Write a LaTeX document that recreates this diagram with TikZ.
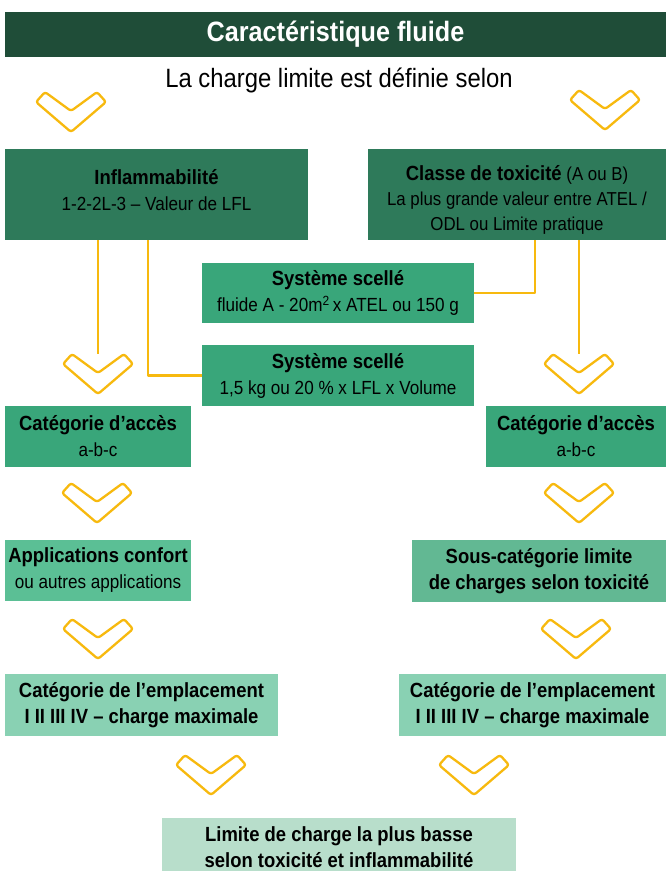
\documentclass[tikz,border=0pt]{standalone}
\usepackage{fontspec}
\setmainfont{Liberation Sans}[FakeStretch=0.9]
\usetikzlibrary{positioning}
\definecolor{titlegreen}{HTML}{1F4D38}
\definecolor{darkbox}{HTML}{2E7A5A}
\definecolor{midbox}{HTML}{39A67A}
\definecolor{applbox}{HTML}{5BBF95}
\definecolor{sousbox}{HTML}{62B893}
\definecolor{lightbox}{HTML}{89D1B3}
\definecolor{palebox}{HTML}{B8DECB}
\definecolor{chevyellow}{HTML}{F7B90E}
\newcommand{\hd}[1]{{\fontsize{20.5}{26}\selectfont\bfseries #1}}
\begin{document}
\begin{tikzpicture}[x=1pt,y=-1pt,line join=round]
	\tikzset{box/.style={inner sep=0pt,align=center,text=black,font=\fontsize{19}{26}\selectfont},
		boxbf/.style={box,font=\fontsize{20.5}{26}\selectfont\bfseries},
		chev/.style={draw=chevyellow,line width=2.3pt,rounded corners=2.5pt,fill=white},
		link/.style={draw=chevyellow,line width=2.4pt}}
	\useasboundingbox (0,0) rectangle (666,871);
	% titre
	\node[fill=titlegreen,minimum width=661pt,minimum height=45pt,text=white,inner sep=0pt,font=\fontsize{28}{30}\selectfont\bfseries] (titre) at (335.5,34.5) {Caractéristique fluide};
	\node[font=\fontsize{26.5}{28}\selectfont] (selon) at (339,80) {La charge limite est définie selon};
	% boites
	\node[fill=darkbox,minimum width=303pt,minimum height=91pt,label={[box,yshift=4.5pt]center:{\hd{Inflammabilité}\\1-2-2L-3 -- Valeur de LFL}}] (infl) at (156.5,194.5) {};
	\node[fill=darkbox,minimum width=298pt,minimum height=91pt,label={[box,yshift=-5.5pt,font=\fontsize{18.7}{25}\selectfont]center:{\hd{Classe de toxicité} (A ou B)\\La plus grande valeur entre ATEL /\\ODL ou Limite pratique}}] (tox) at (517,194.5) {};
	\node[box,fill=midbox,minimum width=272pt,minimum height=60pt] (ssA) at (338,293) {\hd{Système scellé}\\fluide A - 20m\textsuperscript{2}\,x ATEL ou 150 g};
	\node[box,fill=midbox,minimum width=272pt,minimum height=61pt] (ssB) at (338,375.5) {\hd{Système scellé}\\1,5 kg ou 20 \% x LFL x Volume};
	\node[box,fill=midbox,minimum width=186pt,minimum height=61pt] (accL) at (98,436.5) {\hd{Catégorie d’accès}\\a-b-c};
	\node[box,fill=midbox,minimum width=180pt,minimum height=61pt] (accR) at (576,436.5) {\hd{Catégorie d’accès}\\a-b-c};
	\node[box,fill=applbox,minimum width=186pt,minimum height=61pt] (appl) at (98,570.5) {\hd{Applications confort}\\ou autres applications};
	\node[boxbf,fill=sousbox,minimum width=254pt,minimum height=62pt] (sous) at (539,571) {Sous-catégorie limite\\de charges selon toxicité};
	\node[boxbf,fill=lightbox,minimum width=273pt,minimum height=62pt] (emplL) at (141.5,705) {Catégorie de l’emplacement\\I II III IV -- charge maximale};
	\node[boxbf,fill=lightbox,minimum width=267pt,minimum height=62pt] (emplR) at (532.5,705) {Catégorie de l’emplacement\\I II III IV -- charge maximale};
	\node[boxbf,fill=palebox,minimum width=354pt,minimum height=58pt] (limite) at (339,847) {Limite de charge la plus basse\\selon toxicité et inflammabilité};
	% chevrons
	\coordinate (vL) at (98,354);
	\coordinate (vR) at (579,354);
	\foreach \cx/\cy in {71/92,605/90,98/354,579/354,97/483,579/483,98/619,576/619,211/755,474/755}
		\draw[chev,shift={(\cx,\cy)}] (-35,10)--(-26,0)--(0,19)--(26,0)--(35,10)--(0,40)--cycle;
	% liaisons
	\draw[link] (infl.south -| vL) -- (vL);
	\draw[link] ([xshift=-8.5pt]infl.south) |- (ssB.west);
	\draw[link] ([xshift=18pt]tox.south) |- (ssA.east);
	\draw[link] (tox.south -| vR) -- (vR);
\end{tikzpicture}
\end{document}
